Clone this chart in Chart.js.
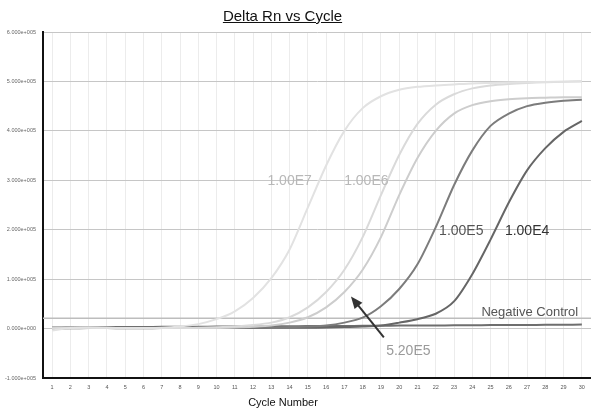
<!DOCTYPE html>
<html lang="en">
<head>
  <meta charset="UTF-8" />
  <title>Delta Rn vs Cycle</title>
  <script src="https://cdn.jsdelivr.net/npm/chart.js"></script>
  <style>
    body { margin: 0; background: #fff; }
    .wrap { position: relative; width: 591px; height: 411px; font-family: "Liberation Sans", Arial, sans-serif; }
    .title {
      position: absolute; left: 0; width: 565px; top: 7px;
      text-align: center; font-size: 15px; line-height: 18px;
      color: #111; text-decoration: underline;
    }
    .xtitle {
      position: absolute; left: 0; width: 566px; top: 396px;
      text-align: center; font-size: 11px; line-height: 13px; color: #111;
    }
  </style>
</head>
<body>
  <div class="wrap">
    <canvas id="chart" width="591" height="411"></canvas>
    <div class="title">Delta Rn vs Cycle</div>
    <div class="xtitle">Cycle Number</div>
  </div>

  <script>
    const cycles = [1, 2, 3, 4, 5, 6, 7, 8, 9, 10, 11, 12, 13, 14, 15, 16, 17, 18, 19, 20, 21, 22, 23, 24, 25, 26, 27, 28, 29, 30];
    const yTickLabels = ['-1.000e+005', '0.000e+000', '1.000e+005', '2.000e+005', '3.000e+005', '4.000e+005', '5.000e+005', '6.000e+005'];

    const std1e7 = [-4000, 1000, 1500, 1500, 1000, 1000, 1500, 4000, 9000, 19000, 35000, 62000, 102000, 160000, 245000,
      330000, 400000, 446000, 470000, 483000, 489000, 492000, 494000, 496000, 497000, 498000, 498500, 499000, 499500, 500000];
    const std1e6 = [0, 1500, 2000, 1500, 1000, 1000, 1000, 1000, 1500, 2500, 4000, 7000, 12000, 23000, 43000,
      74000, 119000, 185000, 270000, 351000, 414000, 453000, 474000, 486000, 492000, 495000, 497000, 498500, 499500, 500500];
    const std52e5 = [1000, 1500, 1500, 1000, 1000, 1000, 1000, 1000, 1000, 1000, 2000, 3500, 6000, 12000, 23000,
      43000, 74000, 119000, 185000, 270000, 345000, 400000, 435000, 452000, 460000, 464000, 466000, 467000, 468000, 468000];
    const std1e5 = [1000, 1000, 1500, 1000, 1000, 1000, 1000, 1000, 1000, 1000, 1000, 1500, 2000, 3000, 4000,
      6000, 12000, 22000, 45000, 80000, 130000, 205000, 290000, 360000, 410000, 435000, 450000, 457000, 461000, 463000];
    const std1e4 = [0, 500, 1000, 1000, 500, 500, 1000, 1000, 1000, 1000, 1000, 1000, 1500, 1500, 1500,
      2000, 3000, 4000, 6000, 12000, 19000, 30000, 55000, 110000, 180000, 255000, 320000, 365000, 398000, 420000];
    const negControl = [2000, 2500, 2500, 3000, 3000, 3000, 3500, 3500, 3500, 4000, 4000, 4000, 4500, 4500, 5000,
      5000, 5000, 5500, 5500, 6000, 6000, 6000, 6500, 6500, 7000, 7000, 7000, 7500, 7500, 8000];
    const threshold = 21000;

    // text labels next to the curves, placed in data units
    const notes = [
      { text: '1.00E7', x: 14.0, y: 298000, color: '#b8b8b8', size: 14 },
      { text: '1.00E6', x: 18.2, y: 298000, color: '#b8b8b8', size: 14 },
      { text: '1.00E5', x: 23.4, y: 198000, color: '#555', size: 14 },
      { text: '1.00E4', x: 27.0, y: 198000, color: '#333', size: 14 },
      { text: 'Negative Control', x: 27.15, y: 32000, color: '#555', size: 13 },
      { text: '5.20E5', x: 20.5, y: -45000, color: '#9a9a9a', size: 14 }
    ];
    const arrow = { from: [19.16, -18000], to: [17.36, 65000] };

    const overlay = {
      id: 'overlay',
      beforeDatasetsDraw(chart) {
        const { ctx, chartArea, scales } = chart;
        const y = scales.y.getPixelForValue(threshold);
        ctx.save();
        ctx.strokeStyle = '#bdbdbd';
        ctx.lineWidth = 1.5;
        ctx.beginPath();
        ctx.moveTo(chartArea.left, y);
        ctx.lineTo(chartArea.right, y);
        ctx.stroke();
        ctx.restore();
      },
      afterDatasetsDraw(chart) {
        const { ctx, scales } = chart;
        const px = v => scales.x.getPixelForValue(v);
        const py = v => scales.y.getPixelForValue(v);
        ctx.save();
        ctx.textAlign = 'center';
        ctx.textBaseline = 'middle';
        notes.forEach(n => {
          ctx.font = n.size + 'px "Liberation Sans", Arial, sans-serif';
          ctx.fillStyle = n.color;
          ctx.fillText(n.text, px(n.x), py(n.y));
        });
        // arrow
        const x1 = px(arrow.from[0]), y1 = py(arrow.from[1]);
        const x2 = px(arrow.to[0]), y2 = py(arrow.to[1]);
        const ang = Math.atan2(y2 - y1, x2 - x1);
        ctx.strokeStyle = '#333';
        ctx.fillStyle = '#333';
        ctx.lineWidth = 2;
        ctx.beginPath();
        ctx.moveTo(x1, y1);
        ctx.lineTo(x2 - 8 * Math.cos(ang), y2 - 8 * Math.sin(ang));
        ctx.stroke();
        ctx.beginPath();
        ctx.moveTo(x2, y2);
        ctx.lineTo(x2 - 12 * Math.cos(ang) + 5 * Math.sin(ang), y2 - 12 * Math.sin(ang) - 5 * Math.cos(ang));
        ctx.lineTo(x2 - 12 * Math.cos(ang) - 5 * Math.sin(ang), y2 - 12 * Math.sin(ang) + 5 * Math.cos(ang));
        ctx.closePath();
        ctx.fill();
        ctx.restore();
      }
    };

    function series(data, color) {
      return { data: data, borderColor: color, borderWidth: 2, pointRadius: 0, tension: 0.25, fill: false };
    }

    Chart.defaults.font.family = '"Liberation Sans", Arial, sans-serif';

    new Chart(document.getElementById('chart'), {
      type: 'line',
      data: {
        labels: cycles,
        datasets: [
          series(std1e7, '#e2e2e2'),
          series(std1e6, '#dadada'),
          series(std52e5, '#cdcdcd'),
          series(std1e5, '#7c7c7c'),
          series(std1e4, '#666666'),
          series(negControl, '#6e6e6e')
        ]
      },
      options: {
        responsive: false,
        animation: false,
        layout: { padding: { top: 32, right: 0, left: 0, bottom: 0 } },
        plugins: { legend: { display: false }, tooltip: { enabled: false } },
        scales: {
          x: {
            type: 'linear',
            min: 0.5,
            max: 30.5,
            afterBuildTicks: s => { s.ticks = cycles.map(c => ({ value: c })); },
            afterFit: s => { s.height = 33; },
            grid: { color: '#ececec', lineWidth: 1, drawTicks: false },
            border: { color: '#111', width: 2 },
            ticks: { padding: 6, color: '#555', font: { size: 5.5 }, maxRotation: 0, autoSkip: false,
              callback: v => String(v) }
          },
          y: {
            min: -100000,
            max: 600000,
            afterFit: s => { s.width = 43; },
            grid: { color: '#c6c6c6', lineWidth: 1, drawTicks: false },
            border: { color: '#111', width: 2 },
            ticks: { stepSize: 100000, padding: 7, color: '#666', font: { size: 5.5 },
              callback: (v, i) => yTickLabels[i] }
          }
        }
      },
      plugins: [overlay]
    });
  </script>
</body>
</html>
